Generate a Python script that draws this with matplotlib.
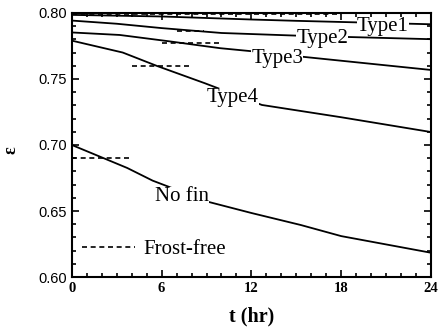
import matplotlib
matplotlib.use("Agg")
import matplotlib.pyplot as plt
from matplotlib.ticker import MultipleLocator
from matplotlib.lines import Line2D

# curves
t_type1 = [0, 6, 12, 15, 24]
eps_type1 = [0.7985, 0.7973, 0.795, 0.794, 0.7914]

t_type2 = [0, 3, 6, 10, 15, 24]
eps_type2 = [0.7942, 0.7918, 0.7885, 0.7848, 0.7828, 0.7801]

t_type3 = [0, 3.2, 6.5, 9.9, 12, 15.5, 24]
eps_type3 = [0.7852, 0.7833, 0.7785, 0.7733, 0.771, 0.7667, 0.7568]

t_type4 = [0, 3.4, 5.7, 8.9, 12.7, 18, 24]
eps_type4 = [0.779, 0.770, 0.7598, 0.7467, 0.7303, 0.721, 0.7098]

t_nofin = [0, 3.7, 5.4, 9.1, 12, 15.3, 18, 24]
eps_nofin = [0.700, 0.6826, 0.673, 0.657, 0.6485, 0.6394, 0.631, 0.6184]

# frost-free levels (short dashed segments)
ff_names = ["Type1", "Type2", "Type3", "Type4", "No fin"]
ff_level = [0.7993, 0.786, 0.777, 0.760, 0.690]
ff_start = [0, 7, 6, 4, 0]
ff_end = [18, 8.8, 10, 8, 4]

curves = [
    ("Type1", t_type1, eps_type1, 19.05, 0.786),
    ("Type2", t_type2, eps_type2, 15.0, 0.7773),
    ("Type3", t_type3, eps_type3, 12.0, 0.762),
    ("Type4", t_type4, eps_type4, 9.0, 0.7328),
    ("No fin", t_nofin, eps_nofin, 5.55, 0.6578),
]

serif = "Liberation Serif"
dash = (0, (3, 2.2))

fig = plt.figure(figsize=(4.38, 3.31), dpi=100)
ax = fig.add_axes([0.164, 0.163, 0.820, 0.798])

for name, t, e, lx, ly in curves:
    ax.plot(t, e, color="black", lw=1.3, zorder=2)
    ax.text(lx, ly, name, fontfamily=serif, fontsize=15, va="baseline", ha="left",
            zorder=4, bbox=dict(boxstyle="square,pad=0", fc="white", ec="none"))

for lvl, a, b in zip(ff_level, ff_start, ff_end):
    ax.plot([a, b], [lvl, lvl], color="black", lw=1.2, linestyle=dash, zorder=3)

handle = Line2D([], [], color="black", lw=1.2, linestyle=dash)
ax.legend([handle], ["Frost-free"], loc="center left", bbox_to_anchor=(0.028, 0.106),
          frameon=False, prop={"family": serif, "size": 15}, handlelength=2.55,
          handletextpad=0.38, borderpad=0, borderaxespad=0)

ax.set_xlim(0, 24)
ax.set_ylim(0.60, 0.80)
ax.xaxis.set_major_locator(MultipleLocator(6))
ax.xaxis.set_minor_locator(MultipleLocator(1))
ax.yaxis.set_major_locator(MultipleLocator(0.05))
ax.yaxis.set_minor_locator(MultipleLocator(0.01))
ax.set_yticks([0.60, 0.65, 0.70, 0.75, 0.80])
ax.set_yticklabels(["0.60", "0.65", "0.70", "0.75", "0.80"])
ax.tick_params(which="both", direction="in", top=True, right=True, width=1.2)
ax.tick_params(which="major", length=5)
ax.tick_params(which="minor", length=3)
for lab in ax.get_xticklabels():
    lab.set_fontfamily(serif)
    lab.set_fontweight("bold")
    lab.set_fontsize(10.5)
for lab in ax.get_yticklabels():
    lab.set_fontfamily("Liberation Sans")
    lab.set_fontsize(10.5)
for sp in ax.spines.values():
    sp.set_linewidth(1.5)

ax.set_xlabel("t (hr)", fontfamily=serif, fontweight="bold", fontsize=14.5, labelpad=8)
ax.set_ylabel("ε", fontfamily=serif, fontweight="bold", fontsize=13)
ax.yaxis.set_label_coords(-0.145, 0.48)

fig.savefig("out.png", dpi=100)
